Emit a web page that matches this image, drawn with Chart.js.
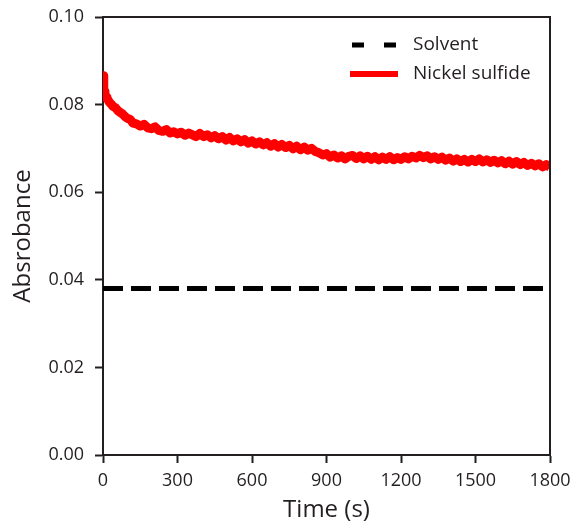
<!DOCTYPE html>
<html>
<head>
<meta charset="utf-8">
<script src="https://cdn.jsdelivr.net/npm/chart.js@4"></script>
<style>
html,body{margin:0;padding:0;background:#fff;}
#wrap{width:576px;height:527px;position:relative;}
</style>
</head>
<body>
<div id="wrap"><canvas id="c" width="576" height="527"></canvas></div>
<script>
const xTitle = 'Time (s)';
const yTitle = 'Absrobance';
const seriesNames = ['Solvent', 'Nickel sulfide'];
const xTicks = [0, 300, 600, 900, 1200, 1500, 1800];
const yTicks = [0.00, 0.02, 0.04, 0.06, 0.08, 0.10];

const solventTimes = [0, 1800];
const solventValues = [0.038, 0.038];

const nickelTimes = [0,2,4,6,8,10,13,16,20,25,30,35,40,50,60,70,80,90,100,110,120,
135,150,165,180,195,210,225,240,255,270,285,300,315,330,345,360,375,390,405,420,435,450,465,480,495,
510,525,540,555,570,585,600,615,630,645,660,675,690,705,720,735,750,765,780,795,810,825,840,855,870,885,
900,915,930,945,960,975,990,1005,1020,1035,1050,1065,1080,1095,1110,1125,1140,1155,1170,1185,
1200,1215,1230,1245,1260,1275,1290,1305,1320,1335,1350,1365,1380,1395,1410,1425,1440,1455,1470,1485,
1500,1515,1530,1545,1560,1575,1590,1605,1620,1635,1650,1665,1680,1695,1710,1725,1740,1755,1770,1785,1800];
const nickelValues = [0.0866,0.0850,0.0838,0.0830,0.0825,0.0821,0.0817,0.0814,0.0811,0.0806,0.0803,0.0800,0.0796,0.0793,0.0786,0.0782,0.0778,0.0772,0.0768,0.0766,0.0758,
0.0756,0.0751,0.0755,0.0747,0.0745,0.0749,0.0741,0.0739,0.0743,0.0735,0.0738,0.0733,0.0737,0.0730,0.0735,0.0731,0.0727,0.0734,0.0727,0.0731,0.0724,0.0729,0.0722,0.0727,0.0719,
0.0725,0.0717,0.0722,0.0715,0.0720,0.0712,0.0717,0.0710,0.0715,0.0708,0.0713,0.0705,0.0711,0.0703,0.0709,0.0702,0.0707,0.0699,0.0705,0.0697,0.0703,0.0696,0.0700,0.0693,0.0690,0.0685,
0.0688,0.0680,0.0685,0.0678,0.0683,0.0676,0.0682,0.0684,0.0677,0.0683,0.0676,0.0682,0.0675,0.0681,0.0674,0.0680,0.0675,0.0681,0.0674,0.0679,
0.0675,0.0681,0.0676,0.0682,0.0678,0.0684,0.0679,0.0683,0.0676,0.0681,0.0675,0.0680,0.0673,0.0678,0.0671,0.0676,0.0670,0.0675,0.0669,0.0675,
0.0670,0.0676,0.0669,0.0674,0.0668,0.0673,0.0667,0.0672,0.0665,0.0671,0.0664,0.0670,0.0663,0.0668,0.0661,0.0666,0.0660,0.0665,0.0658,0.0663,0.0657];

const FONT = "'Open Sans', 'DejaVu Sans', sans-serif";
const INK = '#231f20';

const toXY = (xs, ys) => xs.map((x, i) => ({x: x, y: ys[i]}));

const framePlugin = {
  id: 'frame',
  afterDatasetsDraw(chart) {
    const {ctx, chartArea: a} = chart;
    ctx.save();
    ctx.strokeStyle = INK;
    ctx.lineWidth = 2;
    ctx.beginPath();
    ctx.moveTo(a.left, a.top);
    ctx.lineTo(a.right, a.top);
    ctx.lineTo(a.right, a.bottom);
    ctx.stroke();
    ctx.restore();
  }
};

const legendPlugin = {
  id: 'insideLegend',
  afterDraw(chart) {
    const {ctx, chartArea: a} = chart;
    ctx.save();
    const lx0 = a.right - 198, lx1 = a.right - 153, tx = a.right - 137;
    const rows = [a.top + 28, a.top + 57];
    const ds = chart.data.datasets;
    ctx.strokeStyle = ds[0].borderColor;
    ctx.lineWidth = 5;
    ctx.setLineDash([12, 20]);
    ctx.beginPath();
    ctx.moveTo(lx0, rows[0]);
    ctx.lineTo(lx1, rows[0]);
    ctx.stroke();
    ctx.setLineDash([]);
    ctx.strokeStyle = ds[1].borderColor;
    ctx.lineWidth = 6;
    ctx.beginPath();
    ctx.moveTo(lx0 - 2, rows[1]);
    ctx.lineTo(lx1 + 1, rows[1]);
    ctx.stroke();
    ctx.fillStyle = INK;
    ctx.font = "19px " + FONT;
    ctx.textBaseline = 'middle';
    ctx.textAlign = 'left';
    ctx.fillText(ds[0].label, tx, rows[0]);
    ctx.fillText(ds[1].label, tx, rows[1]);
    ctx.restore();
  }
};

new Chart(document.getElementById('c'), {
  type: 'line',
  data: {
    datasets: [
      {
        label: seriesNames[0],
        data: toXY(solventTimes, solventValues),
        borderColor: '#000000',
        borderWidth: 5,
        borderDash: [20, 8],
        borderCapStyle: 'butt',
        pointRadius: 0,
        fill: false,
        clip: 0
      },
      {
        label: seriesNames[1],
        data: toXY(nickelTimes, nickelValues),
        borderColor: '#ff0000',
        borderWidth: 9,
        borderJoinStyle: 'round',
        borderCapStyle: 'butt',
        pointRadius: 0,
        tension: 0,
        fill: false,
        clip: 0
      }
    ]
  },
  options: {
    responsive: false,
    animation: false,
    devicePixelRatio: 1,
    layout: {padding: {top: 17, right: 26, left: 0, bottom: 0}},
    plugins: {legend: {display: false}, tooltip: {enabled: false}},
    scales: {
      x: {
        type: 'linear',
        min: xTicks[0],
        max: xTicks[xTicks.length - 1],
        afterBuildTicks(s) { s.ticks = xTicks.map(v => ({value: v})); },
        afterFit(s) { s.height = 72; s.paddingLeft = 0; s.paddingRight = 0; },
        ticks: {
          font: {family: FONT, size: 18},
          color: INK,
          padding: 7,
          maxRotation: 0,
          callback: v => String(v)
        },
        grid: {drawOnChartArea: false, drawTicks: true, tickLength: 8, tickWidth: 2, tickColor: INK},
        border: {display: true, color: INK, width: 2},
        title: {display: true, text: xTitle, font: {family: FONT, size: 24}, color: INK, padding: {top: 0, bottom: 2}}
      },
      y: {
        type: 'linear',
        min: yTicks[0],
        max: yTicks[yTicks.length - 1],
        afterBuildTicks(s) { s.ticks = yTicks.map(v => ({value: v})); },
        afterFit(s) { s.width = 103; s.paddingTop = 0; s.paddingBottom = 0; },
        ticks: {
          font: {family: FONT, size: 18},
          color: INK,
          padding: 11,
          callback: v => Number(v).toFixed(2)
        },
        grid: {drawOnChartArea: false, drawTicks: true, tickLength: 8, tickWidth: 2, tickColor: INK},
        border: {display: true, color: INK, width: 2},
        title: {display: true, text: yTitle, font: {family: FONT, size: 24}, color: INK, padding: {top: 9, bottom: 0}}
      }
    }
  },
  plugins: [framePlugin, legendPlugin]
});
</script>
</body>
</html>
